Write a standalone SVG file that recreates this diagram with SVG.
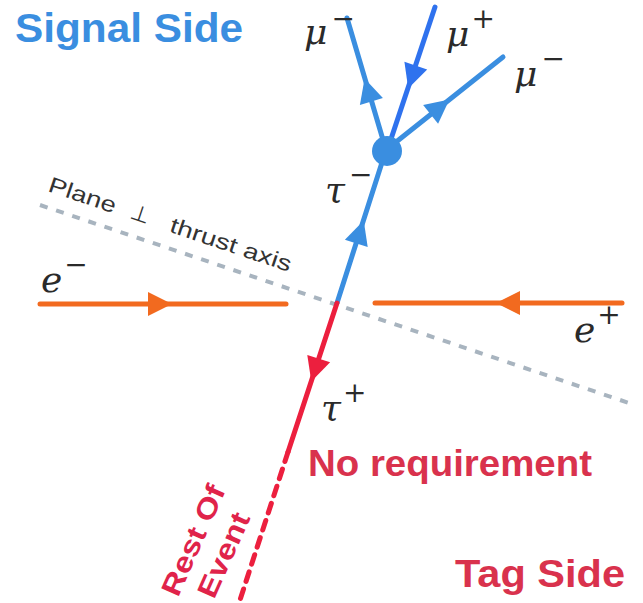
<svg xmlns="http://www.w3.org/2000/svg" width="643" height="603" viewBox="0 0 643 603">
<style>
.blue{stroke:#3a8ee0;stroke-width:5;fill:none;stroke-linecap:round}
.orange{stroke:#f26a1f;stroke-width:5;fill:none;stroke-linecap:round}
.red{stroke:#ec1f3e;stroke-width:5;fill:none;stroke-linecap:round}
.grey{stroke:#a8b4bf;stroke-width:4;fill:none;stroke-dasharray:8 9}
.math{font-family:"DejaVu Serif",serif;font-style:italic;font-size:36px;fill:#2a2a2a}
.sup{font-size:28px;font-style:normal}
.side{font-family:"Liberation Sans",Arial,sans-serif;font-weight:bold}
.plane{font-family:"Liberation Sans",Arial,sans-serif;font-size:22px;fill:#333}
</style>
<defs>
<path id="tri" d="M12,0 L-12,-12 L-12,12 Z"/>
</defs>
<rect width="643" height="603" fill="#fff"/>
<g id="connectors">
<line class="grey" x1="40" y1="205" x2="635" y2="405"/>
<line class="orange" x1="40" y1="304" x2="286" y2="304"/>
<line class="orange" x1="375" y1="303" x2="622" y2="303"/>
<line class="blue" x1="386" y1="150" x2="337" y2="303"/>
<line class="red" x1="337" y1="303" x2="288" y2="452"/>
<line class="red" x1="288" y1="452" x2="240" y2="600" stroke-dasharray="10 8" stroke-linecap="butt"/>
<line class="blue" x1="386" y1="150" x2="347" y2="18"/>
<line stroke="#2f72ee" stroke-width="5" stroke-linecap="round" x1="435" y1="7" x2="388" y2="148"/>
<line class="blue" x1="386" y1="150" x2="503" y2="57"/>
<use href="#tri" fill="#f26a1f" transform="translate(160,304)"/>
<use href="#tri" fill="#f26a1f" transform="translate(508,303) rotate(180)"/>
<use href="#tri" fill="#3a8ee0" transform="translate(360,232) rotate(-72)"/>
<use href="#tri" fill="#ec1f3e" transform="translate(315,370) rotate(108)"/>
<use href="#tri" fill="#3a8ee0" transform="translate(368,90) rotate(-106.5)"/>
<use href="#tri" fill="#2f72ee" transform="translate(412,77) rotate(108.4)"/>
<use href="#tri" fill="#3a8ee0" transform="translate(440,107) rotate(-38.5)"/>
</g>
<g id="vertex"><circle cx="387" cy="151" r="15" fill="#3a8ee0"/></g>
<g id="labels">
<text class="side" x="15" y="42" font-size="40" fill="#3a8ee0" textLength="228" lengthAdjust="spacingAndGlyphs">Signal Side</text>
<text class="side" x="308" y="476" font-size="36" fill="#d9324d" textLength="284" lengthAdjust="spacingAndGlyphs">No requirement</text>
<text class="side" x="455" y="587" font-size="39" fill="#d9324d" textLength="170" lengthAdjust="spacingAndGlyphs">Tag Side</text>
<text class="side" font-size="28" fill="#e0234a" transform="translate(178,598) rotate(-66)" textLength="118" lengthAdjust="spacingAndGlyphs">Rest Of</text>
<text class="side" font-size="28" fill="#e0234a" transform="translate(214,600) rotate(-66)" textLength="90" lengthAdjust="spacingAndGlyphs">Event</text>
<g transform="translate(47,191) rotate(18.5)">
<text class="plane" x="0" y="0" textLength="70" lengthAdjust="spacingAndGlyphs">Plane</text>
<text class="plane" x="86" y="0">⊥</text>
<text class="plane" x="128" y="0" textLength="127" lengthAdjust="spacingAndGlyphs">thrust axis</text>
</g>
<text class="math" x="304" y="44">μ<tspan class="sup" dx="4" dy="-16">−</tspan></text>
<text class="math" x="446" y="46">μ<tspan class="sup" dx="2" dy="-18">+</tspan></text>
<text class="math" x="514" y="86">μ<tspan class="sup" dx="4" dy="-18">−</tspan></text>
<text class="math" x="325" y="202">τ<tspan class="sup" dx="4" dy="-18">−</tspan></text>
<text class="math" x="321" y="420">τ<tspan class="sup" dx="2" dy="-18">+</tspan></text>
<text class="math" x="41" y="292">e<tspan class="sup" dx="2" dy="-18">−</tspan></text>
<text class="math" x="574" y="342">e<tspan class="sup" dx="2" dy="-18">+</tspan></text>
</g>
</svg>
